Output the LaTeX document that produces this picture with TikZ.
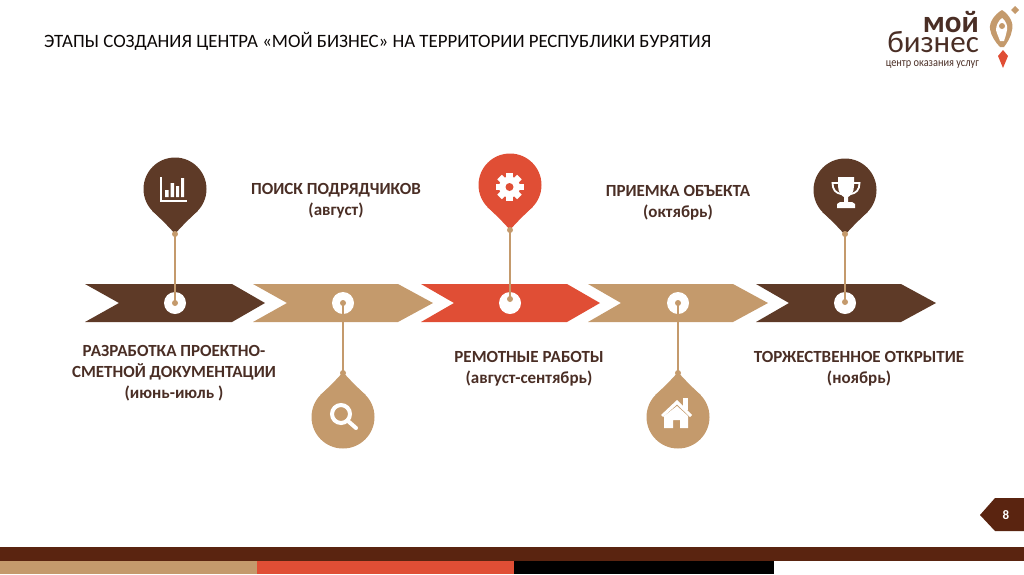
\documentclass[tikz,border=0pt]{standalone}
\usepackage{fontspec}
\setmainfont{Carlito}
\definecolor{cbrown}{HTML}{5E3A27}
\definecolor{ctan}{HTML}{C49A6C}
\definecolor{cred}{HTML}{E04E35}
\definecolor{ctext}{HTML}{4A2E25}
\definecolor{cdark}{HTML}{5A2410}
\tikzset{
  lbl/.style={align=center,font=\fontsize{17}{21}\selectfont\bfseries,text=ctext,inner sep=0pt},
  ring/.style={circle,fill=white,minimum size=22pt,inner sep=0pt},
  dot/.style={circle,fill=ctan,minimum size=6pt,inner sep=0pt},
  stem/.style={draw=ctan,line width=1.5pt},
}
% chevron: #1 colour, #2 left x, #3 notch x, #4 shoulder x, #5 tip x
\newcommand{\chev}[5]{\fill[#1] (#2,284)--(#4,284)--(#5,303)--(#4,322)--(#2,322)--(#3,303)--cycle;}
% pin: #1 colour, #2 centre x, #3 centre y, #4 rotation
\newcommand{\pinshape}[4]{\begin{scope}[shift={(#2,#3)},rotate=#4]
  \fill[#1] (0,0) circle (31.5pt);
  \fill[#1] (0,45) .. controls (-5,39) and (-13,31) .. (-22.6,22) -- (22.6,22) .. controls (13,31) and (5,39) .. (0,45) -- cycle;
\end{scope}}
\begin{document}
\begin{tikzpicture}[x=1pt,y=-1pt]
\useasboundingbox (0,0) rectangle (1024,574);
% title
\node[anchor=west,inner sep=0pt,font=\fontsize{18.85}{22}\selectfont,text=black!85!ctext] (title) at (44,41) {ЭТАПЫ СОЗДАНИЯ ЦЕНТРА «МОЙ БИЗНЕС» НА ТЕРРИТОРИИ РЕСПУБЛИКИ БУРЯТИЯ};
% logo
\node[anchor=base east,inner sep=0pt,font=\fontsize{31}{31}\selectfont\bfseries,text=ctext] (logoa) at (979,32) {мой};
\node[anchor=base east,inner sep=0pt,font=\fontsize{31}{31}\selectfont,text=ctext] (logob) at (979,52) {бизнес};
\node[anchor=base east,inner sep=0pt,font=\fontsize{12}{12}\selectfont,text=ctext,xscale=0.86,transform shape] (logoc) at (979,66) {центр оказания услуг};
\fill[ctan] (1002,10) .. controls (1010,15) and (1014,24) .. (1012,30) .. controls (1011,37) and (1007,43) .. (1004,47) -- (1000,47) .. controls (996,43) and (991,36) .. (990,29) .. controls (989,22) and (995,14) .. (1002,10) -- cycle;
\fill[white] (1002,18) .. controls (1006,21) and (1008,26) .. (1007,30) .. controls (1006,35) and (1005,38) .. (1004,41) -- (1000,41) .. controls (999,38) and (997,34) .. (996,30) .. controls (996,26) and (998,21) .. (1002,18) -- cycle;
\fill[ctan] (1002,26) circle (3pt);
\fill[cred] (1003,50)--(1008,56)--(1003,68)--(998,56)--cycle;
\fill[ctan] (1015,6)--(1019,10)--(1015,14)--(1011,10)--cycle;
% chevrons
\chev{cbrown}{85}{119}{232}{265}
\chev{ctan}{253}{287}{398}{433}
\chev{cred}{421}{454}{567}{600}
\chev{ctan}{588}{621}{733}{768}
\chev{cbrown}{756}{789}{901}{936}
% pins
\pinshape{cbrown}{175}{189}{0}
\pinshape{ctan}{343}{417}{180}
\pinshape{cred}{510}{185}{0}
\pinshape{ctan}{678}{417}{180}
\pinshape{cbrown}{845}{190}{0}
% anchors on the timeline
\node[ring] (c1) at (175,303) {};
\node[ring] (c2) at (343,303) {};
\node[ring] (c3) at (510,303) {};
\node[ring] (c4) at (678,303) {};
\node[ring] (c5) at (845,303) {};
\node[dot] (d1) at (175,303) {};
\node[dot] (d2) at (343,303) {};
\node[dot] (d3) at (510,299) {};
\node[dot] (d4) at (678,303) {};
\node[dot] (d5) at (845,302) {};
\node[dot] (t1) at (175,234) {};
\node[dot] (t2) at (343,373) {};
\node[dot] (t3) at (510,230) {};
\node[dot] (t4) at (678,373) {};
\node[dot] (t5) at (845,234) {};
\draw[stem] (t1.center) -- (d1.center);
\draw[stem] (t2.center) -- (d2.center);
\draw[stem] (t3.center) -- (d3.center);
\draw[stem] (t4.center) -- (d4.center);
\draw[stem] (t5.center) -- (d5.center);
% chart icon
\draw[white,line width=1.2pt] (161,177) -- (161,201) -- (187,201);
\fill[white] (165,190) rectangle (168.5,197) (170.5,183) rectangle (174,197) (176,186) rectangle (179,197) (181,178) rectangle (184,197);
% magnifier icon
\draw[white,line width=4pt] (341,414) circle (9pt);
\draw[white,line width=4pt,line cap=round] (348,421) -- (356,428);
% gear icon
\begin{scope}[shift={(509.5,187)}]
  \foreach \a in {0,45,...,315}{\fill[white,rotate=\a] (-3.2,-14) rectangle (3.2,0);}
  \fill[white] (0,0) circle (10.5pt);
  \fill[cred] (0,0) circle (4pt);
\end{scope}
% house icon
\fill[white] (683,398) rectangle (688,410);
\fill[white] (661,415)--(677,400)--(692,415)--(690,417)--(677,404.5)--(663,417)--cycle;
\fill[white] (664,428)--(664,416)--(677,406)--(688,416)--(688,428)--(680,428)--(680,420)--(673,420)--(673,428)--cycle;
% trophy icon
\draw[white,line width=1.8pt] (838,183) -- (832.5,183) .. controls (832.5,190) and (836,193) .. (841,194);
\draw[white,line width=1.8pt] (854,183) -- (859.5,183) .. controls (859.5,190) and (856,193) .. (851,194);
\fill[white] (838,177) -- (854,177) -- (854,186) .. controls (854,193) and (850,196) .. (848,197) -- (848,202) -- (852,202) -- (855,204) -- (855,208) -- (837,208) -- (837,204) -- (840,202) -- (844,202) -- (844,197) .. controls (842,196) and (838,193) .. (838,186) -- cycle;
% labels
\node[lbl] (l2) at (336,201) {ПОИСК ПОДРЯДЧИКОВ\\(август)};
\node[lbl] (l1) at (174,373) {РАЗРАБОТКА ПРОЕКТНО-\\СМЕТНОЙ ДОКУМЕНТАЦИИ\\(июнь-июль )};
\node[lbl] (l3) at (529,369) {РЕМОТНЫЕ РАБОТЫ\\(август-сентябрь)};
\node[lbl] (l4) at (678,203) {ПРИЕМКА ОБЪЕКТА\\(октябрь)};
\node[lbl] (l5) at (859,369) {ТОРЖЕСТВЕННОЕ ОТКРЫТИЕ\\(ноябрь)};
% page marker
\fill[cdark] (1024,498) -- (995,498) -- (980,515) -- (995,531) -- (1024,531) -- cycle;
\node[inner sep=0pt,font=\fontsize{13}{13}\selectfont\bfseries,text=white] (pg) at (1006,515) {8};
% bottom bars
\fill[cdark] (0,547) rectangle (1024,561);
\fill[ctan] (0,561) rectangle (257,574);
\fill[cred] (257,561) rectangle (514,574);
\fill[black] (514,561) rectangle (774,574);
\end{tikzpicture}
\end{document}
